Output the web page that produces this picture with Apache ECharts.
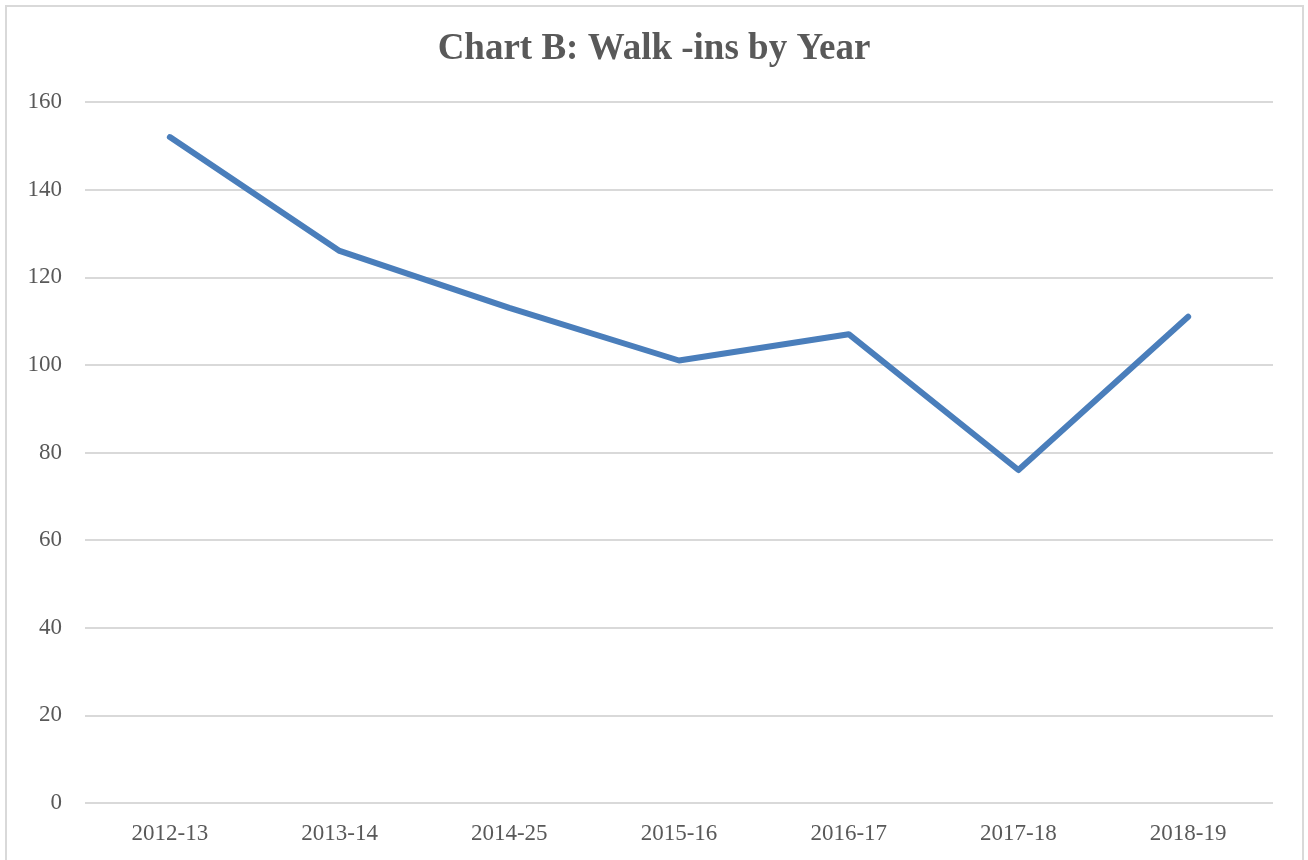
<!DOCTYPE html>
<html>

<head>
    <meta charset="utf-8" />
    <style type="text/css">
        html, body {
            margin: 0;
            padding: 0;
            background: #fff;
        }

        #frame {
            position: absolute;
            left: 5px;
            top: 5px;
            width: 1295px;
            height: 870px;
            border: 2px solid #d9d9d9;
        }

        #main {
            position: absolute;
            left: 0;
            top: 0;
            width: 1308px;
            height: 860px;
        }
    </style>
    <script src="https://cdn.jsdelivr.net/npm/echarts@6/dist/echarts.min.js"></script>
</head>

<body>
    <div id="frame"></div>
    <div id="main"></div>
    <script type="text/javascript">
        // 数据
        var years = ["2012-13", "2013-14", "2014-25", "2015-16", "2016-17", "2017-18", "2018-19"];
        var walkIns = [152, 126, 113, 101, 107, 76, 111];

        var myChart = echarts.init(document.getElementById("main"));
        var option = {
            animation: false,
            title: {
                text: "Chart B: Walk -ins by Year",
                left: "center",
                top: 26,
                textStyle: {
                    fontFamily: "Liberation Serif",
                    fontSize: 37,
                    fontWeight: "bold",
                    color: "#595959",
                },
            },
            grid: {
                left: 85,
                right: 35,
                top: 102,
                bottom: 57,
            },
            xAxis: {
                type: "category",
                data: years,
                axisLine: { show: false },
                axisTick: { show: false },
                axisLabel: {
                    margin: 19,
                    fontFamily: "Liberation Serif",
                    fontSize: 23,
                    color: "#595959",
                },
            },
            yAxis: {
                type: "value",
                min: 0,
                max: 160,
                interval: 20,
                axisLabel: {
                    margin: 23,
                    fontFamily: "Liberation Serif",
                    fontSize: 23,
                    color: "#595959",
                },
                splitLine: {
                    lineStyle: { color: "#d9d9d9", width: 2 },
                },
            },
            series: [
                {
                    name: "Walk-ins",
                    type: "line",
                    data: walkIns,
                    symbol: "none",
                    lineStyle: {
                        color: "#4a7ebb",
                        width: 6,
                        cap: "round",
                        join: "round",
                    },
                },
            ],
        };
        myChart.setOption(option);
    </script>
</body>

</html>
